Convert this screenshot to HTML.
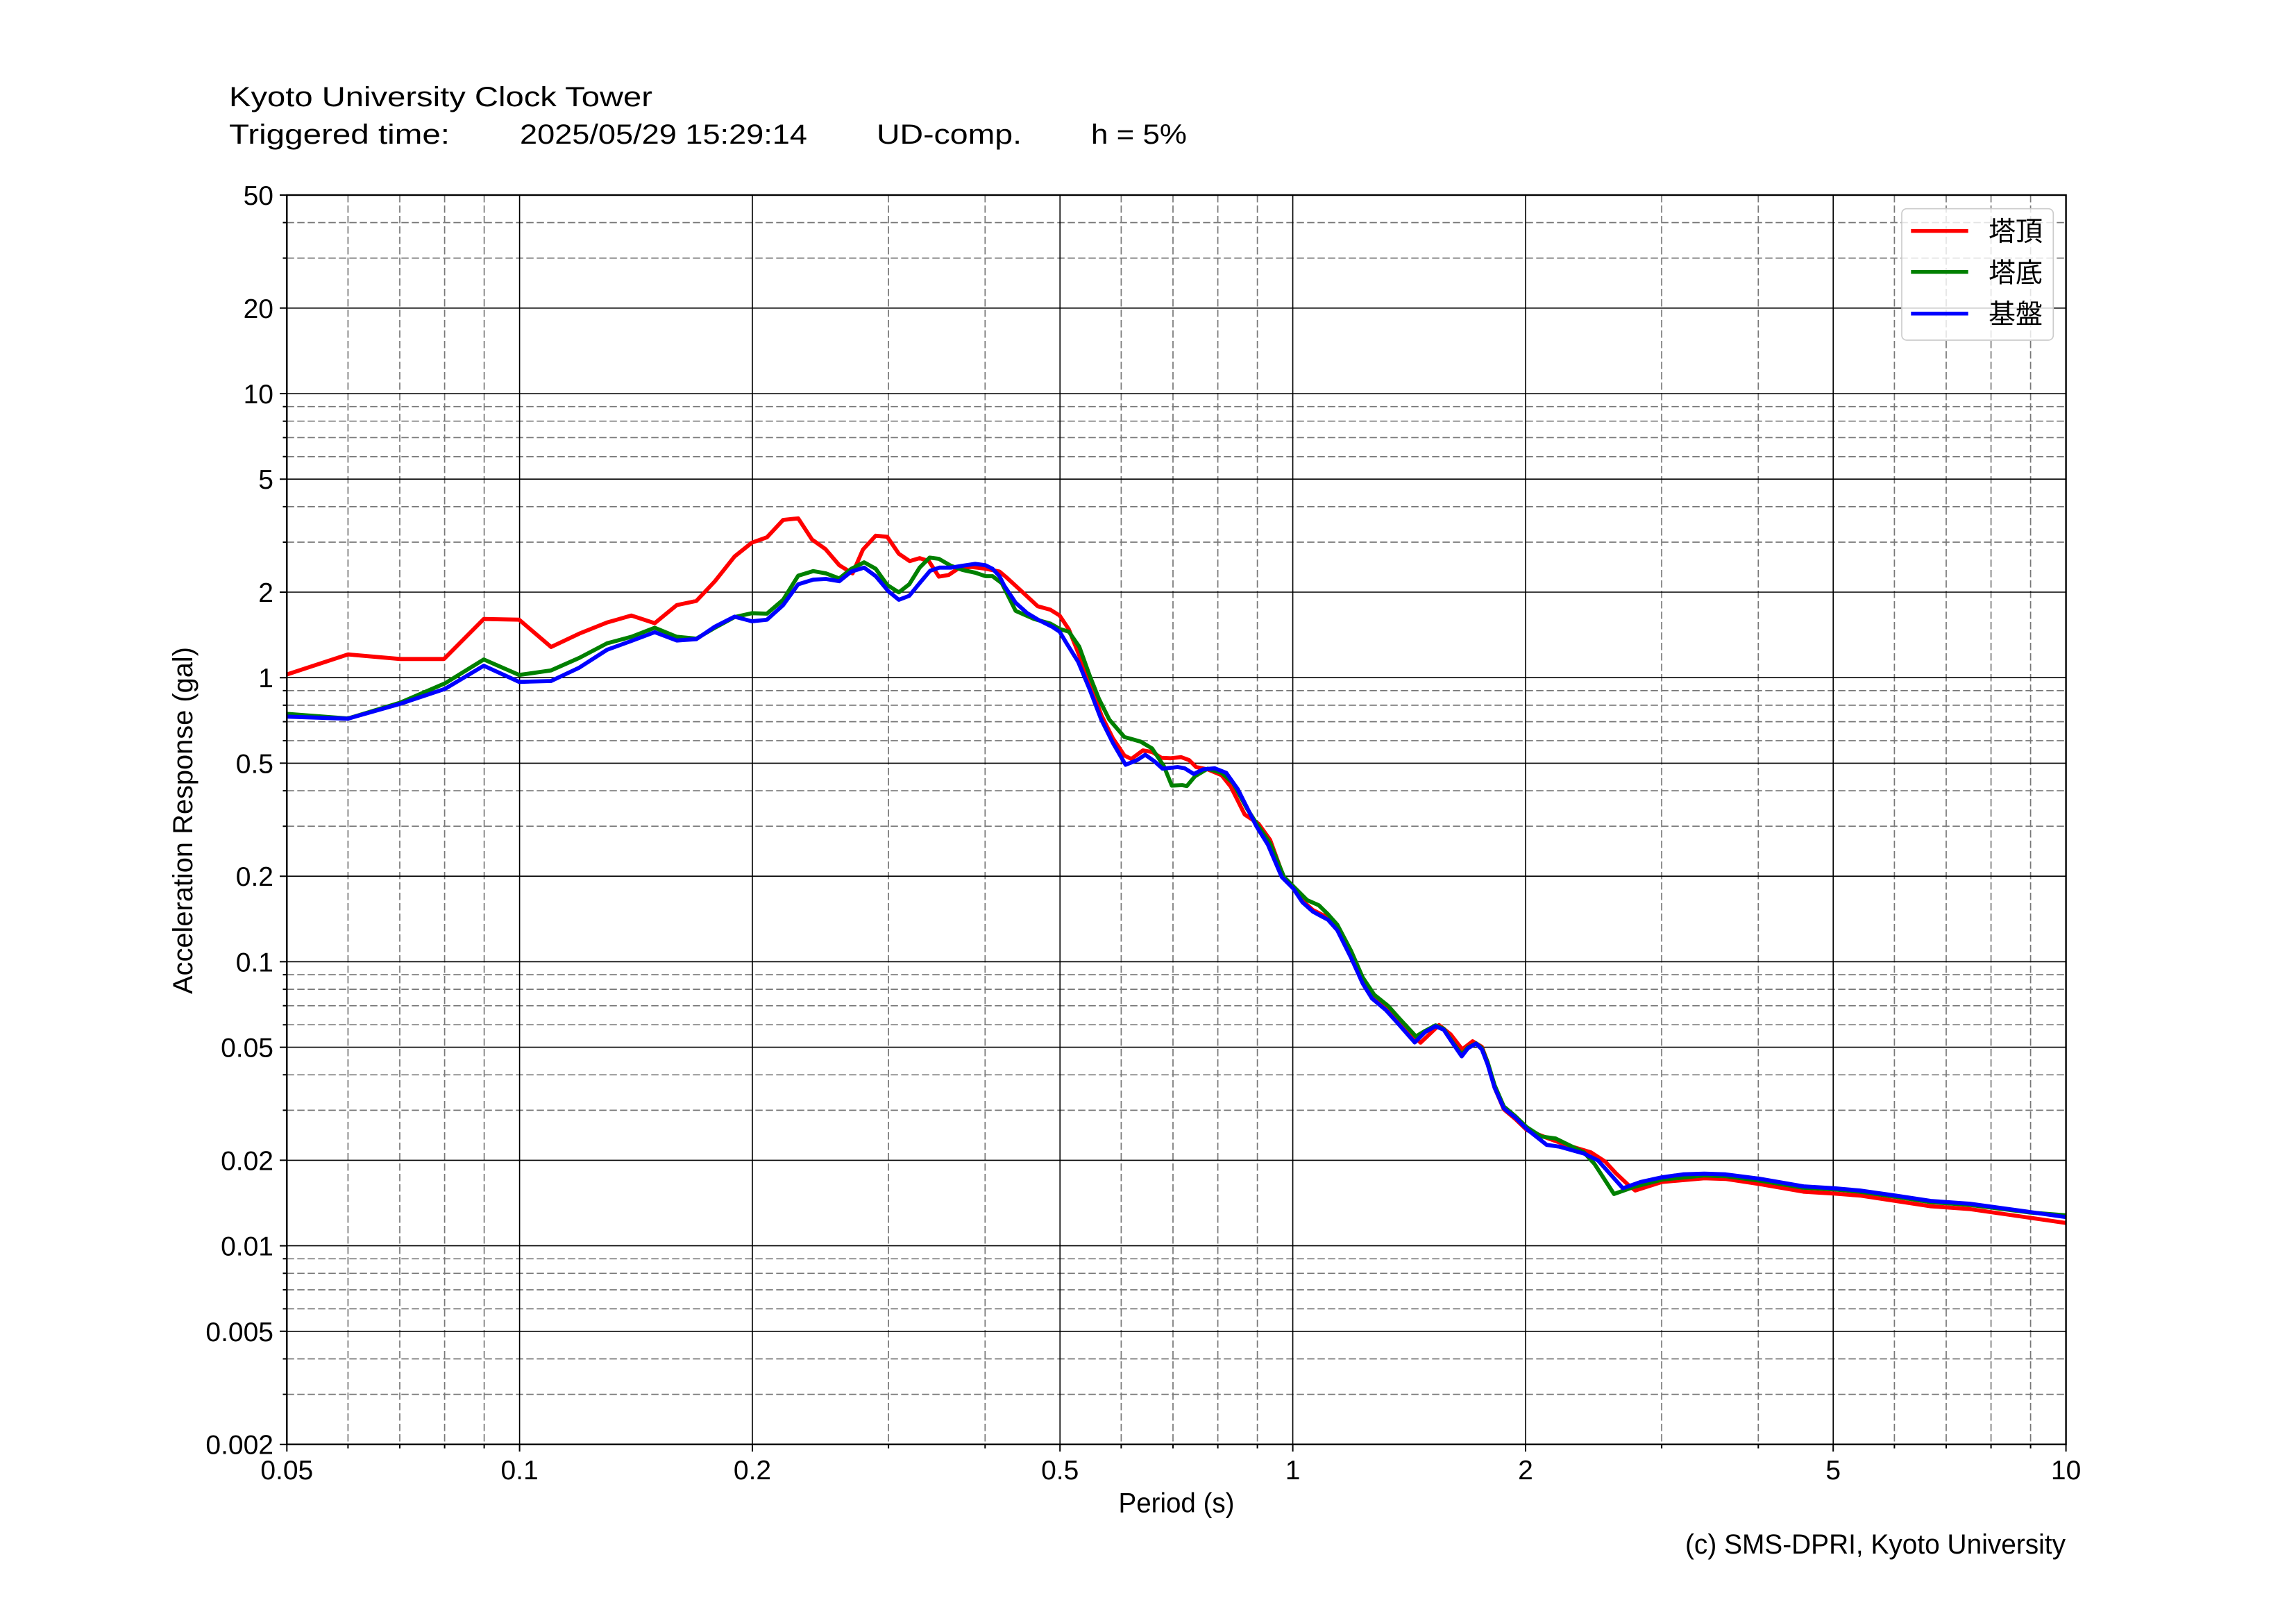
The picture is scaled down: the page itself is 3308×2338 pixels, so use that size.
<!DOCTYPE html>
<html>
<head>
<meta charset="utf-8">
<style>
html,body{margin:0;padding:0;background:#fff;}
svg{display:block;}
text{font-family:"Liberation Sans","Noto Sans CJK JP",sans-serif;fill:#000;}
</style>
</head>
<body>
<svg width="3308" height="2338" viewBox="0 0 3308 2338" xmlns="http://www.w3.org/2000/svg">
<rect x="0" y="0" width="3308" height="2338" fill="#fff"/>
<defs>
<clipPath id="pc"><rect x="413.3" y="281" width="2563.3" height="1799.7"/></clipPath>
</defs>

<!-- title -->
<text x="330" y="153" font-size="40" textLength="610" lengthAdjust="spacingAndGlyphs">Kyoto University Clock Tower</text>
<text x="330" y="207" font-size="40" textLength="318" lengthAdjust="spacingAndGlyphs">Triggered time:</text>
<text x="749" y="207" font-size="40" textLength="414" lengthAdjust="spacingAndGlyphs">2025/05/29 15:29:14</text>
<text x="1263" y="207" font-size="40" textLength="209" lengthAdjust="spacingAndGlyphs">UD-comp.</text>
<text x="1572" y="207" font-size="40" textLength="138" lengthAdjust="spacingAndGlyphs">h = 5%</text>

<!-- minor grid (dashed) -->
<g stroke="#787878" stroke-width="1.7" stroke-dasharray="10.5 4.5" fill="none">
<path d="M501.4 281V2080.7M576 281V2080.7M640.6 281V2080.7M697.6 281V2080.7M1280.1 281V2080.7M1419.3 281V2080.7M1615.4 281V2080.7M1690 281V2080.7M1754.6 281V2080.7M1811.6 281V2080.7M2394.1 281V2080.7M2533.3 281V2080.7M2729.4 281V2080.7M2804 281V2080.7M2868.6 281V2080.7M2925.6 281V2080.7"/>
<path d="M413.3 320.6H2976.6M413.3 371.8H2976.6M413.3 585.7H2976.6M413.3 606.7H2976.6M413.3 630.4H2976.6M413.3 657.8H2976.6M413.3 729.9H2976.6M413.3 781H2976.6M413.3 994.9H2976.6M413.3 1015.9H2976.6M413.3 1039.6H2976.6M413.3 1067H2976.6M413.3 1139.1H2976.6M413.3 1190.2H2976.6M413.3 1404.1H2976.6M413.3 1425.1H2976.6M413.3 1448.8H2976.6M413.3 1476.2H2976.6M413.3 1548.3H2976.6M413.3 1599.4H2976.6M413.3 1813.3H2976.6M413.3 1834.3H2976.6M413.3 1858H2976.6M413.3 1885.4H2976.6M413.3 1957.5H2976.6M413.3 2008.6H2976.6"/>
</g>
<!-- major grid -->
<g stroke="#000" stroke-width="1.6" fill="none">
<path d="M748.6 281V2080.7M1084 281V2080.7M1527.2 281V2080.7M1862.6 281V2080.7M2198 281V2080.7M2641.2 281V2080.7"/>
<path d="M413.3 443.8H2976.6M413.3 567H2976.6M413.3 690.2H2976.6M413.3 853H2976.6M413.3 976.2H2976.6M413.3 1099.4H2976.6M413.3 1262.2H2976.6M413.3 1385.4H2976.6M413.3 1508.6H2976.6M413.3 1671.4H2976.6M413.3 1794.6H2976.6M413.3 1917.8H2976.6"/>
</g>

<!-- curves -->
<g clip-path="url(#pc)" fill="none" stroke-width="5.8" stroke-linejoin="round" stroke-linecap="round">
<polyline stroke="#ff0000" points="413,971.7 501.3,942.7 576.3,949.3 639.7,949.3 697,891.7 748,892.7 794,932 834.7,912.7 874.7,896.7 909.7,886.7 943.3,897.7 975,871.7 1003.3,865.7 1030,837.3 1058.3,801.7 1083.3,781.7 1105,774 1128.3,749 1150,746.7 1170,777.3 1189.3,791 1209.3,814.3 1228.3,826 1243.3,791.7 1261.7,771.7 1278.3,773.3 1295,797.7 1310.7,808.3 1325,804 1338.3,808.3 1352.7,830.7 1366.7,828.3 1381.7,818.3 1400,816.7 1420,819.3 1440,823.3 1450,831.7 1470,850 1495,873.3 1513.3,878.3 1526.7,886.7 1540,906.7 1553.3,940 1570,983.3 1586.7,1030 1603.3,1063.3 1620,1088.3 1630,1093.3 1646.7,1081 1660,1083.3 1673.3,1091.7 1686.7,1092.3 1701.7,1090.7 1713.3,1095 1723.3,1105 1740,1108.3 1760,1116.7 1773.3,1133.3 1793.3,1173.3 1813.3,1186.7 1830,1210 1850,1265 1863.3,1280 1878.3,1299 1891.7,1311 1913.3,1322 1926.7,1337 1946.7,1377 1963.3,1414 1976.7,1436 1996.7,1452 2013.3,1470 2046.7,1502 2073.3,1476.7 2090,1490 2106.7,1511.7 2121.7,1500 2135,1508 2143.3,1530 2153.3,1566.7 2166.7,1598 2183.3,1612 2200,1628 2231,1640 2256.5,1649.3 2292.2,1660 2312.7,1673.3 2328,1690 2345.8,1706.7 2356,1715 2394.3,1702.7 2455.5,1697.3 2486.1,1698.3 2537.1,1706 2598.4,1716.7 2641.7,1719.3 2680,1722.3 2731,1730 2782,1737.7 2838.2,1741.7 2924.9,1754.3 2980,1762.2"/>
<polyline stroke="#008000" points="413,1028.3 501.3,1035 576.3,1012.3 641.3,984.3 697,950 748,972.3 794,965.7 834.7,947.7 874.7,926.7 909.7,917.3 943.3,904.3 975,917.3 1003.3,920 1030,904.3 1058.3,889 1083.3,883.3 1105,884 1128.3,864 1150,829.3 1171.7,822.7 1190,826 1209.3,833.3 1226.7,819.3 1245,810 1261.7,819.3 1278.3,842.7 1295,853.3 1310,841.7 1325,817.7 1339.3,803.3 1352.7,805 1370,815 1386.7,821 1405,825 1420,830 1430,830 1443.3,840 1463.3,880 1490,891.7 1513.3,898.3 1526.7,906 1540,910 1555,931.7 1570,973.3 1583.3,1006.7 1598.3,1036.7 1620,1061.7 1643.3,1068.3 1660,1078.3 1676.7,1103.3 1688.3,1131.7 1703.3,1131 1710,1132.3 1721.7,1118.3 1740,1107.3 1760,1113.3 1776.7,1128.3 1796.7,1165 1811.7,1188.3 1830,1215 1850,1263.3 1863.3,1276.7 1883.3,1296.7 1900,1304 1913.3,1317 1926.7,1332 1946.7,1370 1963.3,1408 1980,1433 2000,1449 2016,1467 2040,1493 2053.3,1485 2068.3,1477 2080,1482 2093.3,1502 2106,1519 2115,1509 2126.7,1503 2135,1510 2143.3,1530 2153.3,1563 2166.7,1594 2183.3,1608 2200,1624 2220.8,1637.3 2241.2,1640 2282,1660 2297.3,1676.7 2325.4,1720 2353.5,1710 2394.3,1699.3 2455.5,1693.3 2486.1,1694.3 2537.1,1701 2598.4,1711 2641.7,1713.3 2680,1716.7 2731,1724 2782,1731.7 2838.2,1735.7 2924.9,1746.7 2980,1751"/>
<polyline stroke="#0000ff" points="413,1032.3 501.3,1035.3 576.3,1014 641.3,992.3 697,959 748,982.3 794,981 834.7,961.7 874.7,936 909.7,923.3 943.3,910.7 975,922.7 1003.3,920.7 1030,902.7 1058.3,888.3 1083.3,895 1105,892.7 1128.3,871.7 1150,841.7 1171.7,835 1190,834 1209.3,837.3 1226.7,823.3 1245,817.7 1261.7,830 1280,851.7 1295,864 1310,858.3 1325,840 1340,822.3 1353.3,817.7 1370,817.7 1386.7,815 1405,812.3 1420,814.3 1430,819.3 1440,830 1446.7,843.3 1463.3,868.3 1480,883.3 1496.7,893.3 1516.7,903.3 1526.7,910 1536.7,926.7 1553.3,953.3 1570,993.3 1586.7,1036.7 1603.3,1070 1621.7,1101.7 1638.3,1095 1650,1087.3 1663.3,1096.7 1675,1107.3 1696.7,1105 1706.7,1106.7 1720,1115 1733.3,1108.3 1750,1106.7 1766.7,1113.3 1783.3,1136.7 1796.7,1163.3 1810,1190 1826.7,1216.7 1846.7,1263.3 1863.3,1280 1876.7,1300 1891.7,1313.3 1913.3,1325 1926.7,1340 1946.7,1380 1963.3,1416.7 1976.7,1438.3 1996.7,1455 2013.3,1473.3 2038.3,1501.7 2053.3,1486.7 2068.3,1478.3 2080,1483.3 2093.3,1503.3 2106,1521.7 2115,1510 2126.7,1503.3 2135,1511.7 2143.3,1533.3 2153.3,1566.7 2166.7,1596.7 2183.3,1610 2200,1626.7 2228.5,1649.3 2246.3,1651.7 2282,1661.7 2302.4,1671.7 2338.2,1711.7 2363.7,1702.7 2394.3,1696 2424.9,1691.7 2455.5,1690.7 2486.1,1691.7 2537.1,1698.3 2598.4,1709 2641.7,1711.7 2680,1715 2731,1722.3 2782,1730 2838.2,1734 2924.9,1746 2980,1753.8"/>
</g>

<!-- spines -->
<rect x="413.3" y="281" width="2563.3" height="1799.7" fill="none" stroke="#000" stroke-width="2.4"/>

<!-- ticks -->
<g stroke="#000" stroke-width="2" fill="none">
<path d="M403 281H413.3M403 443.8H413.3M403 567H413.3M403 690.2H413.3M403 853H413.3M403 976.2H413.3M403 1099.4H413.3M403 1262.2H413.3M403 1385.4H413.3M403 1508.6H413.3M403 1671.4H413.3M403 1794.6H413.3M403 1917.8H413.3M403 2080.7H413.3"/>
<path d="M407.5 320.6H413.3M407.5 371.8H413.3M407.5 585.7H413.3M407.5 606.7H413.3M407.5 630.4H413.3M407.5 657.8H413.3M407.5 729.9H413.3M407.5 781H413.3M407.5 994.9H413.3M407.5 1015.9H413.3M407.5 1039.6H413.3M407.5 1067H413.3M407.5 1139.1H413.3M407.5 1190.2H413.3M407.5 1404.1H413.3M407.5 1425.1H413.3M407.5 1448.8H413.3M407.5 1476.2H413.3M407.5 1548.3H413.3M407.5 1599.4H413.3M407.5 1813.3H413.3M407.5 1834.3H413.3M407.5 1858H413.3M407.5 1885.4H413.3M407.5 1957.5H413.3M407.5 2008.6H413.3"/>
<path d="M413.3 2080.7V2091M748.6 2080.7V2091M1084 2080.7V2091M1527.2 2080.7V2091M1862.6 2080.7V2091M2198 2080.7V2091M2641.2 2080.7V2091M2976.6 2080.7V2091"/>
<path d="M501.4 2080.7V2086.5M576 2080.7V2086.5M640.6 2080.7V2086.5M697.6 2080.7V2086.5M1280.1 2080.7V2086.5M1419.3 2080.7V2086.5M1615.4 2080.7V2086.5M1690 2080.7V2086.5M1754.6 2080.7V2086.5M1811.6 2080.7V2086.5M2394.1 2080.7V2086.5M2533.3 2080.7V2086.5M2729.4 2080.7V2086.5M2804 2080.7V2086.5M2868.6 2080.7V2086.5M2925.6 2080.7V2086.5"/>
</g>

<!-- y tick labels -->
<g font-size="39" text-anchor="end">
<text x="394" y="295">50</text>
<text x="394" y="457.8">20</text>
<text x="394" y="581">10</text>
<text x="394" y="704.2">5</text>
<text x="394" y="867">2</text>
<text x="394" y="990.2">1</text>
<text x="394" y="1113.4">0.5</text>
<text x="394" y="1276.2">0.2</text>
<text x="394" y="1399.4">0.1</text>
<text x="394" y="1522.6">0.05</text>
<text x="394" y="1685.4">0.02</text>
<text x="394" y="1808.6">0.01</text>
<text x="394" y="1931.8">0.005</text>
<text x="394" y="2094.7">0.002</text>
</g>

<!-- x tick labels -->
<g font-size="39" text-anchor="middle">
<text x="413.3" y="2131">0.05</text>
<text x="748.6" y="2131">0.1</text>
<text x="1084" y="2131">0.2</text>
<text x="1527.2" y="2131">0.5</text>
<text x="1862.6" y="2131">1</text>
<text x="2198" y="2131">2</text>
<text x="2641.2" y="2131">5</text>
<text x="2976.6" y="2131">10</text>
</g>

<!-- axis labels -->
<text x="1695" y="2178.5" font-size="40" text-anchor="middle" textLength="167" lengthAdjust="spacingAndGlyphs">Period (s)</text>
<text transform="translate(277,1182) rotate(-90)" x="0" y="0" font-size="40" text-anchor="middle" textLength="500" lengthAdjust="spacingAndGlyphs">Acceleration Response (gal)</text>

<!-- copyright -->
<text x="2976" y="2238" font-size="40" text-anchor="end" textLength="548" lengthAdjust="spacingAndGlyphs">(c) SMS-DPRI, Kyoto University</text>

<!-- legend -->
<rect x="2740" y="300.7" width="218.3" height="189.3" rx="7" ry="7" fill="#fff" fill-opacity="0.8" stroke="#cccccc" stroke-width="1.7"/>
<g stroke-width="5.5" fill="none">
<path d="M2753.3 332.7H2835.7" stroke="#ff0000"/>
<path d="M2753.3 391.7H2835.7" stroke="#008000"/>
<path d="M2753.3 451.7H2835.7" stroke="#0000ff"/>
</g>
<g font-size="39" style="font-family:'Noto Sans CJK JP','Liberation Sans',sans-serif;">
<text x="2865" y="347">塔頂</text>
<text x="2865" y="406.5">塔底</text>
<text x="2865" y="466">基盤</text>
</g>
</svg>
</body>
</html>
